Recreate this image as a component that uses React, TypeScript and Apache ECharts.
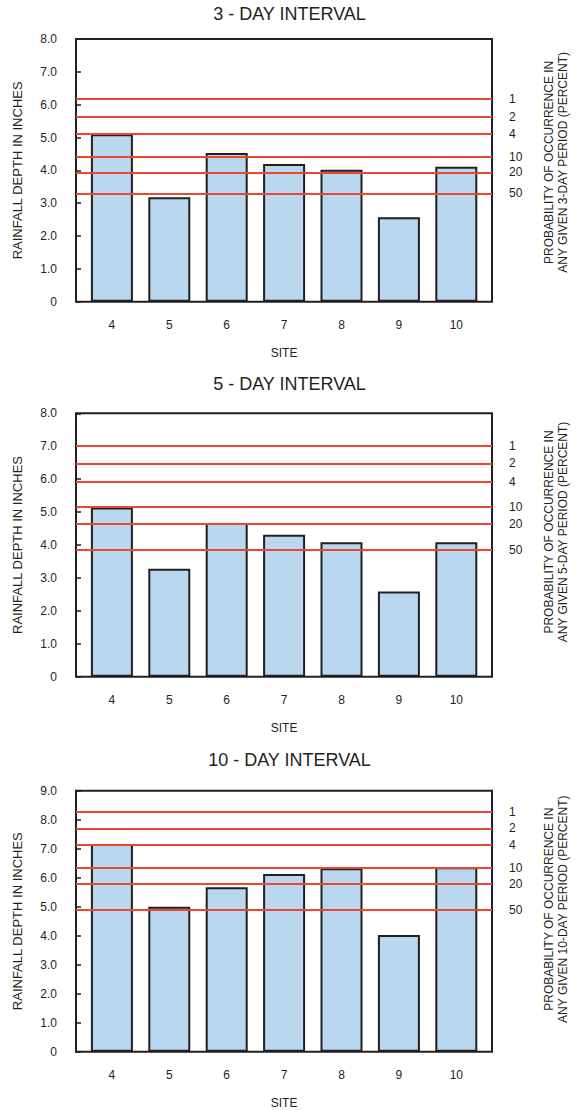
import React, { useEffect, useRef } from "react";
import * as echarts from "echarts";

// ---- data ----
const sites = ["4", "5", "6", "7", "8", "9", "10"];
const probLabels = ["1", "2", "4", "10", "20", "50"];

const rain3 = [5.1, 3.18, 4.53, 4.19, 4.02, 2.57, 4.11];
const prob3 = [6.17, 5.63, 5.1, 4.42, 3.94, 3.3];

const rain5 = [5.14, 3.28, 4.67, 4.31, 4.08, 2.59, 4.08];
const prob5 = [7.01, 6.48, 5.92, 5.16, 4.64, 3.85];

const rain10 = [7.16, 5.0, 5.67, 6.13, 6.33, 4.02, 6.36];
const prob10 = [8.27, 7.7, 7.14, 6.34, 5.78, 4.9];

const titles = ["3 - DAY INTERVAL", "5 - DAY INTERVAL", "10 - DAY INTERVAL"];
const periodNames = ["3-DAY", "5-DAY", "10-DAY"];
const yMaxes = [8, 8, 9];
const rainSets = [rain3, rain5, rain10];
const probSets = [prob3, prob5, prob10];

// ---- layout ----
const panelLayout = [
  { top: 39, bottom: 301.7, titleY: 14, rightOff: -8 },
  { top: 413.3, bottom: 676.7, titleY: 384, rightOff: -13 },
  { top: 790.7, bottom: 1051.7, titleY: 760, rightOff: -12 },
];
const BOX_LEFT = 76;
const BOX_RIGHT = 492;
const BAR_LEFT = 83.2;
const BAR_RIGHT = 485;
const INK = "#231f20";
const FONT = '"Liberation Sans", Arial, sans-serif';

export default function App() {
  const ref = useRef<HTMLDivElement>(null);

  useEffect(() => {
    if (!ref.current) return;
    const chart = echarts.init(ref.current, null, { renderer: "svg" });

    const grid: any[] = [];
    const xAxis: any[] = [];
    const yAxis: any[] = [];
    const series: any[] = [];
    const graphic: any[] = [];

    panelLayout.forEach((p, i) => {
      const h = p.bottom - p.top;
      const yMax = yMaxes[i];
      // box grid
      grid.push({
        left: BOX_LEFT,
        top: p.top,
        width: BOX_RIGHT - BOX_LEFT,
        height: h,
        show: true,
        borderColor: INK,
        borderWidth: 2,
        backgroundColor: "transparent",
      });
      // bar grid
      grid.push({
        left: BAR_LEFT,
        top: p.top,
        width: BAR_RIGHT - BAR_LEFT,
        height: h,
      });
      xAxis.push({
        type: "value",
        gridIndex: 2 * i,
        min: 0,
        max: 1,
        show: false,
      });
      yAxis.push({
        type: "value",
        gridIndex: 2 * i,
        min: 0,
        max: yMax,
        interval: 1,
        axisLine: { show: false },
        axisTick: {
          show: true,
          inside: true,
          length: 5,
          lineStyle: { color: INK, width: 1.5 },
        },
        splitLine: { show: false },
        axisLabel: {
          margin: 19,
          fontSize: 12,
          fontFamily: FONT,
          color: INK,
          formatter: (v: number) => (v === 0 ? "0" : v.toFixed(1)),
        },
      });
      xAxis.push({
        type: "category",
        gridIndex: 2 * i + 1,
        data: sites,
        boundaryGap: true,
        axisLine: { show: false },
        axisTick: { show: false },
        axisLabel: { margin: 17, fontSize: 12, fontFamily: FONT, color: INK },
        name: "SITE",
        nameLocation: "middle",
        nameGap: 45,
        nameTextStyle: { fontSize: 12, fontFamily: FONT, color: INK },
      });
      yAxis.push({
        type: "value",
        gridIndex: 2 * i + 1,
        min: 0,
        max: yMax,
        show: false,
      });
      series.push({
        type: "bar",
        xAxisIndex: 2 * i + 1,
        yAxisIndex: 2 * i + 1,
        data: rainSets[i],
        barWidth: 42,
        silent: true,
        z: 2,
        itemStyle: { color: "#bad7f0", borderColor: INK, borderWidth: 2 },
      });
      series.push({
        type: "line",
        xAxisIndex: 2 * i,
        yAxisIndex: 2 * i,
        data: [],
        z: 5,
        markLine: {
          silent: true,
          symbol: ["none", "none"],
          emphasis: { disabled: true },
          lineStyle: { color: "#ea4830", width: 2, type: "solid" },
          label: {
            show: true,
            position: "end",
            distance: 17,
            formatter: "{b}",
            fontSize: 12,
            fontFamily: FONT,
            color: INK,
          },
          data: probSets[i].map((v, j) => ({ yAxis: v, name: probLabels[j] })),
        },
      });

      const cy = (p.top + p.bottom) / 2;
      graphic.push({
        type: "text",
        x: 289.5,
        y: p.titleY,
        silent: true,
        style: {
          text: titles[i],
          font: `18px ${FONT}`,
          fill: INK,
          align: "center",
          verticalAlign: "middle",
        },
      });
      graphic.push({
        type: "text",
        x: 17,
        y: cy,
        rotation: Math.PI / 2,
        silent: true,
        style: {
          text: "RAINFALL DEPTH IN INCHES",
          font: `13px ${FONT}`,
          fill: INK,
          align: "center",
          verticalAlign: "middle",
        },
      });
      graphic.push({
        type: "text",
        x: 555.5,
        y: cy + p.rightOff,
        rotation: Math.PI / 2,
        silent: true,
        style: {
          text: `PROBABILITY OF OCCURRENCE IN\nANY GIVEN ${periodNames[i]} PERIOD (PERCENT)`,
          font: `12px ${FONT}`,
          lineHeight: 14,
          fill: INK,
          align: "center",
          verticalAlign: "middle",
        },
      });
    });

    chart.setOption({
      animation: false,
      backgroundColor: "#ffffff",
      grid,
      xAxis,
      yAxis,
      series,
      graphic,
    });

    return () => {
      chart.dispose();
    };
  }, []);

  return (
    <div
      ref={ref}
      style={{
        position: "absolute",
        left: 0,
        top: 0,
        width: 579,
        height: 1110,
        background: "#ffffff",
      }}
    />
  );
}
